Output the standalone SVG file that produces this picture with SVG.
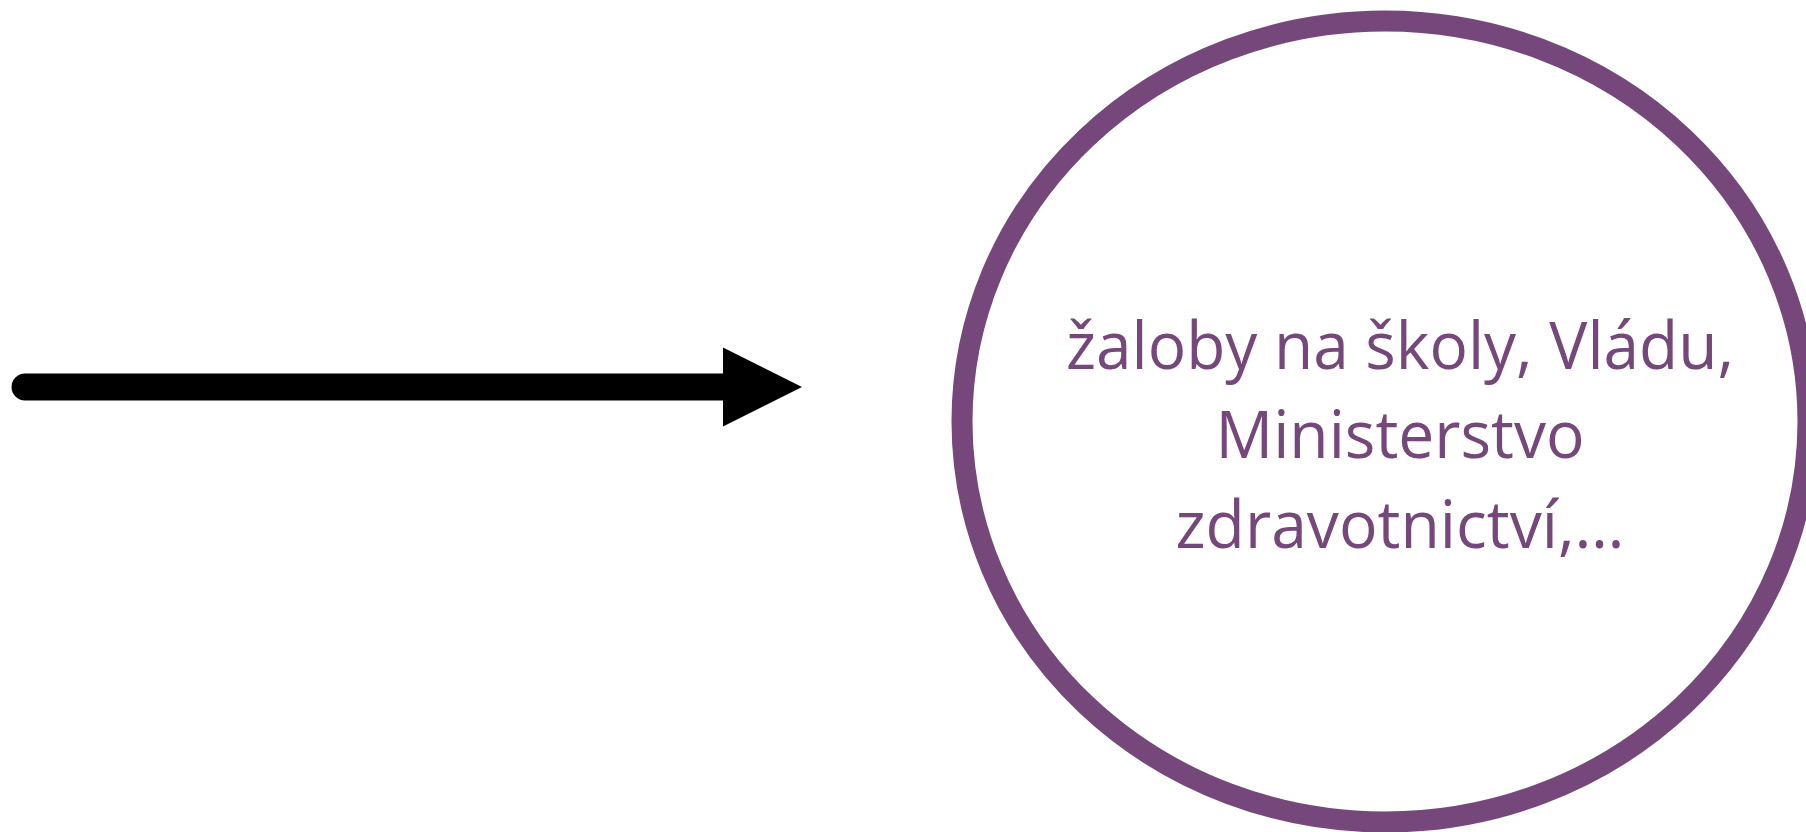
<svg xmlns="http://www.w3.org/2000/svg" width="1806" height="832" viewBox="0 0 1806 832">
  <style>
    .node-shape { fill: #ffffff; stroke: #75477A; stroke-width: 21; }
    .node-text { font-family: "Open Sans", "Noto Sans", "Liberation Sans", sans-serif; font-size: 66px; fill: #75477A; text-anchor: middle; }
    .conn-line { stroke: #000000; stroke-width: 27; stroke-linecap: round; fill: none; }
    .conn-head { fill: #000000; }
  </style>
  <rect x="0" y="0" width="1806" height="832" fill="#ffffff"/>
  <g id="connectors">
    <line class="conn-line" x1="25" y1="387" x2="724" y2="387"/>
    <polygon class="conn-head" points="723,347.5 802,387 723,426.5"/>
  </g>
  <g id="node-zaloby">
    <ellipse class="node-shape" cx="1385" cy="421.5" rx="423" ry="400.5"/>
    <text class="node-text" x="1400" y="369" textLength="668" lengthAdjust="spacingAndGlyphs">žaloby na školy, Vládu,</text>
    <text class="node-text" x="1400" y="458" textLength="369" lengthAdjust="spacingAndGlyphs">Ministerstvo</text>
    <text class="node-text" x="1400" y="548" textLength="449" lengthAdjust="spacingAndGlyphs">zdravotnictví,…</text>
  </g>
</svg>
